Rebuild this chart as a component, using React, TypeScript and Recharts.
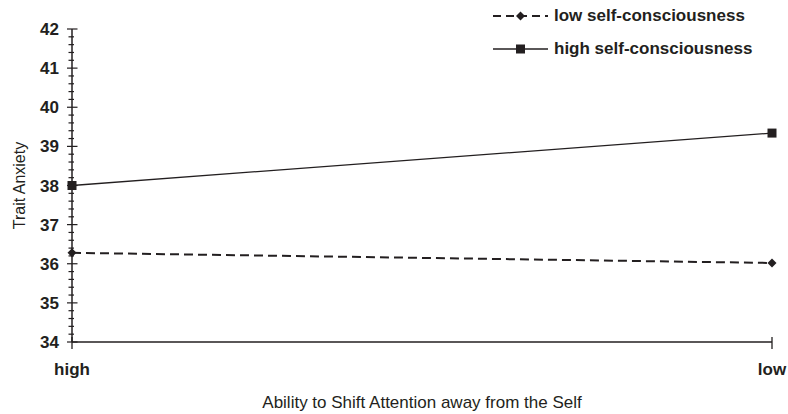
import React from 'react';
import { LineChart, Line, XAxis, YAxis, Legend } from 'recharts';

const categories = ['high', 'low'];
const lowSelfConsciousness = [36.28, 36.02];
const highSelfConsciousness = [38.0, 39.34];
const majorTicks = [34, 35, 36, 37, 38, 39, 40, 41, 42];
const seriesNames = ['low self-consciousness', 'high self-consciousness'];

const minorTicks: number[] = [];
for (let i = 0; i < majorTicks.length - 1; i++) {
  for (let k = 0; k < 5; k++) minorTicks.push(Math.round((majorTicks[i] + k * 0.2) * 10) / 10);
}
minorTicks.push(majorTicks[majorTicks.length - 1]);

const data = categories.map((c, i) => ({
  cond: c,
  low: lowSelfConsciousness[i],
  high: highSelfConsciousness[i],
}));

const FONT = '"Liberation Sans", Arial, Helvetica, sans-serif';
const INK = '#231f20';

const Diamond = (props: any) => {
  const { cx, cy, index } = props;
  if (cx == null || cy == null) return <g key={index} />;
  return (
    <path
      key={index}
      d={`M${cx},${cy - 4.5} L${cx + 4.5},${cy} L${cx},${cy + 4.5} L${cx - 4.5},${cy} Z`}
      fill={INK}
    />
  );
};

const Square = (props: any) => {
  const { cx, cy, index } = props;
  if (cx == null || cy == null) return <g key={index} />;
  return <rect key={index} x={cx - 4.5} y={cy - 4.5} width={9} height={9} fill={INK} />;
};

const YTick = (props: any) => {
  const { x, y, payload } = props;
  const v = payload.value as number;
  const major = Math.abs(v - Math.round(v)) < 1e-6;
  return (
    <g>
      <path
        d={`M${Number(x) - (major ? 5 : 3.5)},${Number(y)}H${Number(x) + (major ? 5.5 : 2)}`}
        stroke={INK}
        strokeWidth={1.2}
        fill="none"
      />
      {major && (
        <text
          x={x - 13}
          y={y}
          dy="0.36em"
          textAnchor="end"
          fill={INK}
          fontSize={17}
          fontWeight="bold"
          fontFamily={FONT}
        >
          {Math.round(v)}
        </text>
      )}
    </g>
  );
};

const XTick = (props: any) => {
  const { x, y, payload } = props;
  return (
    <g>
      <path d={`M${Number(x)},${Number(y) - 5}V${Number(y) + 7}`} stroke={INK} strokeWidth={1.3} fill="none" />
      <text
        x={x}
        y={y + 21}
        dy="0.71em"
        textAnchor="middle"
        fill={INK}
        fontSize={17}
        fontWeight="bold"
        fontFamily={FONT}
      >
        {payload.value}
      </text>
    </g>
  );
};

const renderLegend = (props: any) => {
  const payload = [...(props.payload || [])].sort(
    (a: any, b: any) => seriesNames.indexOf(a.value) - seriesNames.indexOf(b.value)
  );
  return (
    <div style={{ fontFamily: FONT, fontWeight: 'bold', fontSize: 17, color: INK }}>
      {payload.map((entry: any, i: number) => {
        const dashed = entry.dataKey === 'low';
        return (
          <div key={i} style={{ display: 'flex', alignItems: 'center', height: 33, whiteSpace: 'nowrap' }}>
            <svg width={56} height={14} style={{ display: 'block' }}>
              <line
                x1={0}
                y1={7}
                x2={55}
                y2={7}
                stroke={INK}
                strokeWidth={dashed ? 2 : 1.3}
                strokeDasharray={dashed ? '8 5' : undefined}
              />
              {dashed ? (
                <path d="M27.5,2.5 L32,7 L27.5,11.5 L23,7 Z" fill={INK} />
              ) : (
                <rect x={23} y={2.5} width={9} height={9} fill={INK} />
              )}
            </svg>
            <span style={{ marginLeft: 5 }}>{entry.value}</span>
          </div>
        );
      })}
    </div>
  );
};

export default function App() {
  return (
    <div style={{ position: 'absolute', left: 0, top: 0, background: '#fff' }}>
      <LineChart
        width={788}
        height={414}
        data={data}
        margin={{ top: 29, right: 16, left: 0, bottom: 0 }}
      >
        <XAxis
          xAxisId="x"
          dataKey="cond"
          height={72}
          tickSize={0}
          tickMargin={0}
          interval={0}
          tickLine={false}
          axisLine={{ stroke: INK, strokeWidth: 1.5 }}
          tick={<XTick />}
          label={{
            value: 'Ability to Shift Attention away from the Self',
            position: 'insideBottom',
            offset: 6,
            style: { fill: INK, fontSize: 17, fontFamily: FONT },
          }}
        />
        <YAxis
          yAxisId="y"
          type="number"
          width={72}
          domain={[34, 42]}
          allowDataOverflow
          ticks={minorTicks}
          interval={0}
          tickSize={0}
          tickMargin={0}
          tickLine={false}
          axisLine={{ stroke: INK, strokeWidth: 1.5 }}
          tick={<YTick />}
          label={{
            value: 'Trait Anxiety',
            angle: -90,
            position: 'insideLeft',
            offset: 19,
            style: { textAnchor: 'middle', fill: INK, fontSize: 16, fontFamily: FONT },
          }}
        />
        <Legend
          layout="vertical"
          align="center"
          verticalAlign="middle"
          content={renderLegend}
          wrapperStyle={{ left: 493, top: -1, width: 295, height: 70 }}
        />
        <Line
          xAxisId="x"
          yAxisId="y"
          type="linear"
          dataKey="low"
          name={seriesNames[0]}
          stroke={INK}
          strokeWidth={2}
          strokeDasharray="9 5"
          dot={Diamond}
          activeDot={false}
          isAnimationActive={false}
        />
        <Line
          xAxisId="x"
          yAxisId="y"
          type="linear"
          dataKey="high"
          name={seriesNames[1]}
          stroke={INK}
          strokeWidth={1.3}
          dot={Square}
          activeDot={false}
          isAnimationActive={false}
        />
      </LineChart>
    </div>
  );
}
